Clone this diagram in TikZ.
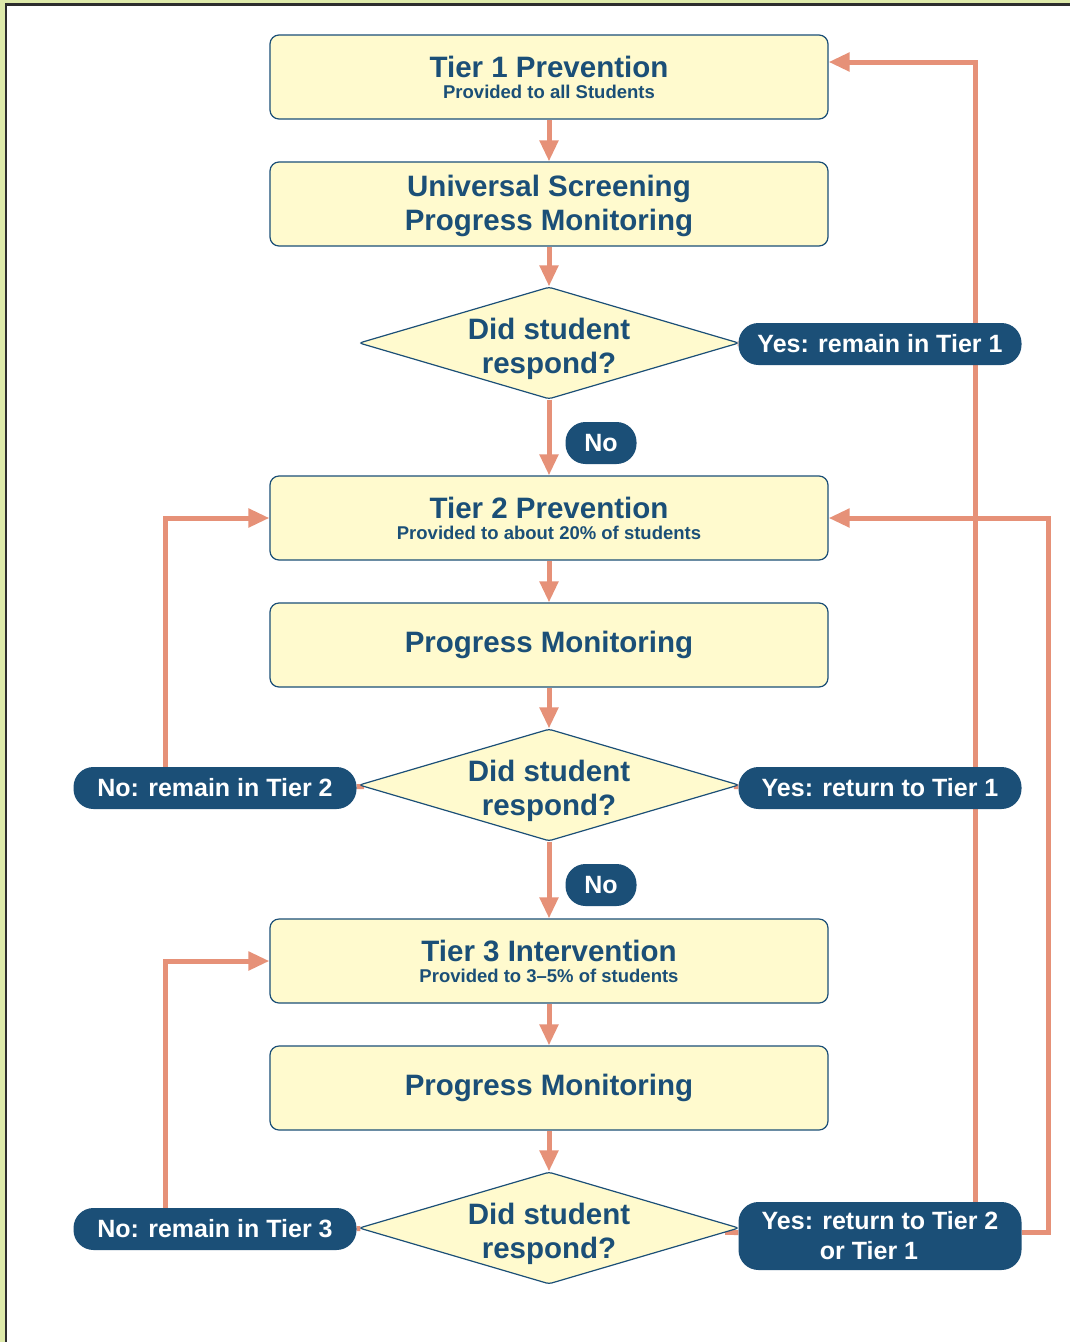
\documentclass[tikz,border=0pt]{standalone}
\usepackage{fontspec}
\setmainfont{Liberation Sans}
\usetikzlibrary{arrows.meta,shapes.geometric}
\definecolor{rtiBlue}{RGB}{27,79,119}
\definecolor{rtiFill}{RGB}{255,250,206}
\definecolor{rtiArrow}{RGB}{230,145,120}
\definecolor{rtiFrame}{RGB}{222,234,170}
\definecolor{rtiEdge}{RGB}{45,45,45}
\pgfdeclarelayer{back}
\pgfsetlayers{back,main}
\tikzset{
  tierbox/.style={draw=rtiBlue, line width=1.2pt, fill=rtiFill, rounded corners=9pt,
    minimum width=558pt, minimum height=84pt, inner sep=0pt, align=center,
    text=rtiBlue, font=\bfseries\fontsize{29.5}{34}\selectfont},
  tiertitle/.style={tierbox, font=\bfseries\fontsize{29.5}{21}\selectfont},
  decision/.style={diamond, aspect=3.4, draw=rtiBlue, line width=1.2pt, fill=rtiFill,
    rounded corners=3pt, minimum width=380pt, minimum height=112pt, inner sep=-6pt,
    align=center, text=rtiBlue, font=\bfseries\fontsize{29.5}{34}\selectfont},
  pill/.style={fill=rtiBlue, text=white, rounded corners=20pt, minimum width=283pt,
    minimum height=42pt, inner sep=0pt, align=center,
    font=\bfseries\fontsize{25}{30}\selectfont},
  flow/.style={-{Triangle[length=21pt,width=18pt]}, line width=5pt, draw=rtiArrow},
  link/.style={line width=5pt, draw=rtiArrow},
}
\newcommand{\subline}[1]{{\fontsize{18.5}{22}\selectfont #1}}
\newcommand{\lift}[1]{\rule{0pt}{#1}}
\begin{document}
\begin{tikzpicture}[x=1pt, y=-1pt]
    \useasboundingbox (0,0) rectangle (1070,1342);
    % tier boxes
    \node[tiertitle] (t1) at (549,77) {Tier 1 Prevention\\\subline{Provided to all Students}};
    \node[tierbox] (scr) at (549,204) {\lift{26pt}Universal Screening\\Progress Monitoring};
    \node[decision] (d1) at (549,343) {\lift{34pt}Did student\\respond?};
    \node[tiertitle] (t2) at (549,518) {Tier 2 Prevention\\\subline{Provided to about 20\% of students}};
    \node[tierbox] (pm2) at (549,645) {Progress Monitoring};
    \node[decision] (d2) at (549,785) {\lift{34pt}Did student\\respond?};
    \node[tiertitle] (t3) at (549,961) {Tier 3 Intervention\\\subline{Provided to 3--5\% of students}};
    \node[tierbox] (pm3) at (549,1088) {Progress Monitoring};
    \node[decision] (d3) at (549,1228) {\lift{34pt}Did student\\respond?};
    % answers
    \foreach \y/\nm in {443/noA,885/noB}
      \node[pill, minimum width=71pt] (\nm) at (601,\y) {No};
    \node[pill] (yes1) at (880,344) {Yes: remain in Tier 1};
    \node[pill] (yes2) at (880,788) {Yes: return to Tier 1};
    \node[pill, minimum height=68pt] (yes3) at (880,1236) {Yes: return to Tier 2\\or Tier 1\hspace*{22pt}};
    \node[pill] (no2) at (215,788) {No: remain in Tier 2};
    \node[pill] (no3) at (215,1229) {No: remain in Tier 3};
    \coordinate (rbendA) at (975,62);
    \coordinate (rbendB) at (1048,518);
    \coordinate (lbend) at (165,518);
    % frame and loops behind the nodes
    \begin{pgfonlayer}{back}
      \fill[rtiFrame] (0,0) rectangle (1070,1342);
      \fill[white] (6,4.5) rectangle (1070,1342);
      \draw[rtiEdge, line width=2.5pt] (6,1342) -- (6,4.5) -- (1070,4.5);
      \draw[flow] (yes3.north -| rbendA) |- (t1.east |- rbendA);
      \draw[flow] ([yshift=4pt]yes3.east) -| (rbendB) -- (t2.east);
      \draw[flow] (no2.north -| lbend) |- (t2.west);
      \draw[flow] (no3.north -| lbend) |- (t3.west);
      \foreach \a/\b in {d1/yes1,d2/yes2,d3/yes3,no2/d2,no3/d3}
        \draw[link] (\a) -- (\b);
    \end{pgfonlayer}
    % main flow
    \foreach \a/\b in {t1/scr,scr/d1,d1/t2,t2/pm2,pm2/d2,d2/t3,t3/pm3,pm3/d3}
      \draw[flow] (\a) -- (\b);
  \end{tikzpicture}
\end{document}
